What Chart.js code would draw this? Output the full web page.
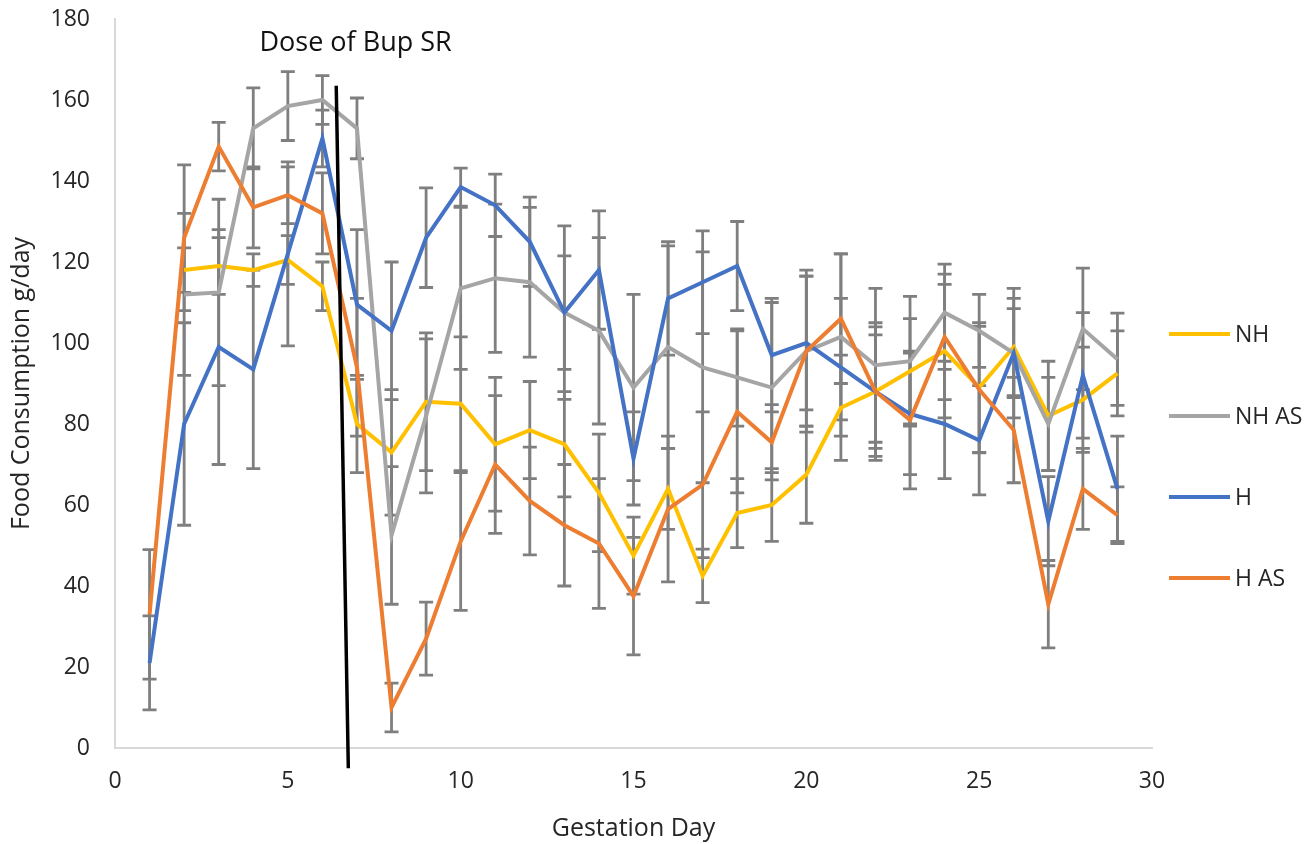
<!DOCTYPE html>
<html>
<head>
<meta charset="utf-8">
<script src="https://cdn.jsdelivr.net/npm/chart.js@4.4.0/dist/chart.umd.min.js"></script>
<style>
  html, body { margin: 0; padding: 0; background: #fff; }
  #wrap { width: 1313px; height: 844px; }
</style>
</head>
<body>
<div id="wrap"><canvas id="foodChart" width="1313" height="844"></canvas></div>
<script>
// gestation days
var days = [1, 2, 3, 4, 5, 6, 7, 8, 9, 10, 11, 12, 13, 14, 15, 16, 17, 18, 19, 20, 21, 22, 23, 24, 25, 26, 27, 28, 29];

// mean food consumption, g/day
var nh   = [null, 118, 119, 118, 120.5, 114, 80, 73, 85.5, 85, 75, 78.5, 75, 63, 47.5, 64, 42.5, 58, 60, 67.5, 84, 88, 93, 98, 89, 99, 82, 86, 92.5];
var nhAs = [null, 112, 112.5, 153, 158.5, 160, 153, 52.5, 82, 113.5, 116, 115, 107.5, 103, 89, 99, 94, 91.5, 89, 98, 101.5, 94.5, 95.5, 107.5, 103, 97.5, 80, 103.5, 96];
var h    = [21, 80, 99, 93.5, 122, 150.5, 109.5, 103, 126, 138.5, 134, 125, 107.5, 118, 71.5, 111, 115, 119, 97, 100, 94, 88, 82.5, 80, 76, 97.5, 56, 92, 64];
var hAs  = [33, 126, 148.5, 133.5, 136.5, 132, 94, 10, 27, 51, 70, 61, 55, 50.5, 37.5, 59, 65, 83, 75.5, 98, 106, 88, 81, 101.5, 88.5, 78.5, 35.5, 64, 57.5];

// error bar half-lengths
var nhErr   = [null, 5.5, 7, 4, 6, 6, 12, 15.5, 17, 16.5, 16.5, 12, 13, 14.5, 9.5, 10, 6.6, 8.5, 9, 12, 13, 16, 13, 16.5, 16, 12, 13.5, 13, 10.5];
var nhAsErr = [null, 20, 23, 10, 8.5, 6, 7.5, 17, 19, 20, 18.3, 18.5, 14, 23, 23, 25, 28.5, 12, 21, 18.5, 20.5, 19, 16, 12, 9, 11, 11.5, 15, 11.4];
var hErr    = [11.6, 25, 29, 24.5, 22.7, 7, 18.5, 17, 12.3, 4.7, 7.7, 11, 21.4, 14.6, 11.5, 14, 12.7, 11, 14, 16.5, 17, 17, 15, 13.5, 13.5, 16, 11, 15.5, 13];
var hAsErr  = [16, 18, 6, 10, 7, 10, 17, 6, 9, 17, 17, 13.3, 15, 16, 14.5, 18, 18, 20, 9.3, 20, 16, 14, 17, 15.5, 15.6, 13, 10.8, 10, 7];

// dose marker line (day, g/day)
var doseX = [6.4, 6.75];
var doseY = [163.5, -5];
var doseLabel = 'Dose of Bup SR';
var doseLabelAt = { x: 6.96, y: 174 };

var labels = ['NH', 'NH AS', 'H', 'H AS'];
var colors = ['#FFC000', '#A5A5A5', '#4472C4', '#ED7D31'];

function pts(xs, ys) {
    return xs.map(function (x, i) { return { x: x, y: ys[i] }; });
}

function series(i, values, errs, order) {
    return {
        label: labels[i],
        data: pts(days, values),
        errors: errs,
        borderColor: colors[i],
        backgroundColor: colors[i],
        borderWidth: 4,
        pointRadius: 0,
        tension: 0,
        order: order
    };
}

var FONT = '"Open Sans", "Noto Sans", sans-serif';
var TEXT = '#262626';

// gray error bars, drawn under the lines
var errorBars = {
    id: 'errorBars',
    beforeDatasetsDraw: function (chart) {
        var ctx = chart.ctx, xs = chart.scales.x, ys = chart.scales.y;
        ctx.save();
        ctx.strokeStyle = '#7f7f7f';
        ctx.lineWidth = 2.8;
        chart.data.datasets.forEach(function (ds) {
            if (!ds.errors) return;
            ds.data.forEach(function (p, i) {
                var e = ds.errors[i];
                if (p.y == null || e == null) return;
                var px = xs.getPixelForValue(p.x);
                var top = ys.getPixelForValue(p.y + e);
                var bot = ys.getPixelForValue(p.y - e);
                ctx.beginPath();
                ctx.moveTo(px, top); ctx.lineTo(px, bot);
                ctx.moveTo(px - 7, top); ctx.lineTo(px + 7, top);
                ctx.moveTo(px - 7, bot); ctx.lineTo(px + 7, bot);
                ctx.stroke();
            });
        });
        ctx.restore();
    },
    afterDraw: function (chart) {
        var ctx = chart.ctx, xs = chart.scales.x, ys = chart.scales.y;
        ctx.save();
        // annotation text
        ctx.fillStyle = '#111';
        ctx.font = '27px ' + FONT;
        ctx.textAlign = 'center';
        ctx.textBaseline = 'middle';
        ctx.fillText(doseLabel, xs.getPixelForValue(doseLabelAt.x), ys.getPixelForValue(doseLabelAt.y));

        // legend on the right
        var lx = chart.chartArea.right + 17;
        var ly = [334, 416, 497, 578];
        ctx.font = '23px ' + FONT;
        ctx.textAlign = 'left';
        ctx.fillStyle = TEXT;
        ctx.lineWidth = 4;
        for (var i = 0; i < labels.length; i++) {
            ctx.strokeStyle = colors[i];
            ctx.beginPath();
            ctx.moveTo(lx, ly[i]); ctx.lineTo(lx + 61, ly[i]);
            ctx.stroke();
            ctx.fillText(labels[i], lx + 66, ly[i] + 1);
        }
        ctx.restore();
    }
};

window.onload = function () {
    var config = {
        type: 'line',
        data: {
            datasets: [
                series(0, nh, nhErr, 4),
                series(1, nhAs, nhAsErr, 3),
                series(2, h, hErr, 2),
                series(3, hAs, hAsErr, 1),
                {
                    label: 'dose',
                    data: pts(doseX, doseY),
                    borderColor: '#000',
                    borderWidth: 3.5,
                    pointRadius: 0,
                    clip: false,
                    order: 0
                }
            ]
        },
        options: {
            responsive: false,
            animation: false,
            layout: { padding: { top: 19, right: 161, left: 0, bottom: 0 } },
            plugins: {
                legend: { display: false },
                tooltip: { enabled: false }
            },
            scales: {
                x: {
                    type: 'linear',
                    min: 0,
                    max: 30,
                    ticks: { stepSize: 5, padding: 20, color: TEXT, font: { family: FONT, size: 23 } },
                    grid: { display: false, drawTicks: false },
                    border: { display: true, color: '#d9d9d9', width: 2 },
                    title: { display: true, text: 'Gestation Day', color: TEXT, font: { family: FONT, size: 25 }, padding: { top: 0, bottom: 0 } },
                    afterFit: function (scale) { scale.height = 96; }
                },
                y: {
                    min: 0,
                    max: 180,
                    ticks: { stepSize: 20, padding: 25, color: TEXT, font: { family: FONT, size: 23 } },
                    grid: { display: false, drawTicks: false },
                    border: { display: true, color: '#d9d9d9', width: 2 },
                    title: { display: true, text: 'Food Consumption g/day', color: TEXT, font: { family: FONT, size: 25 }, padding: { top: 7, bottom: 0 } },
                    afterFit: function (scale) {
                        scale.width = 115;
                        scale.paddingTop = 0;
                        scale.paddingBottom = 0;
                    }
                }
            }
        },
        plugins: [errorBars]
    };

    var ctx = document.getElementById('foodChart').getContext('2d');
    window.foodChart = new Chart(ctx, config);
};
</script>
</body>
</html>
